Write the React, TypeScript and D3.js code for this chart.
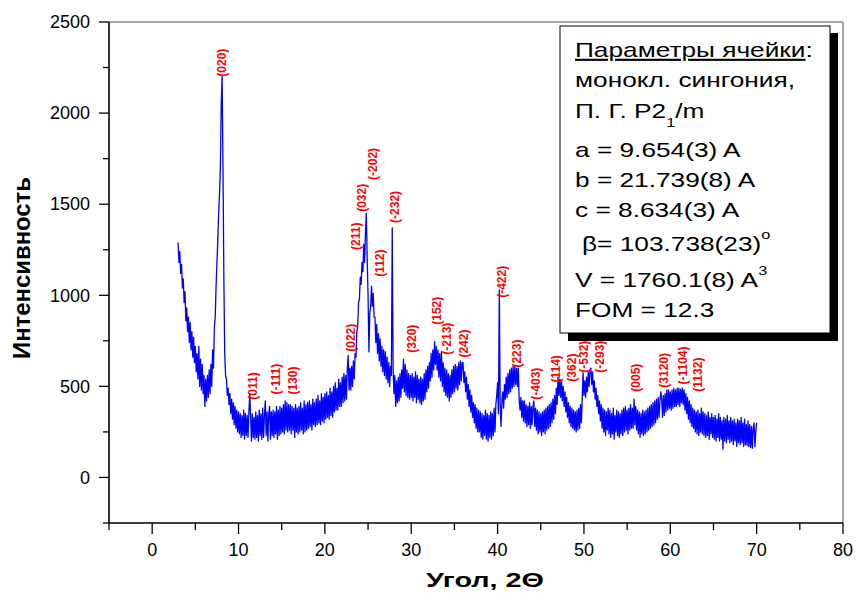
import React from 'react';
import * as d3 from 'd3';

const W = 856, H = 594;

// axes
const xDomain = [-5, 80];
const yDomain = [-250, 2500];
const xTicks = [0, 10, 20, 30, 40, 50, 60, 70, 80];
const xMinor = [-5, 5, 15, 25, 35, 45, 55, 65, 75];
const yTicks = [0, 500, 1000, 1500, 2000, 2500];
const yMinor = [-250, 250, 750, 1250, 1750, 2250];

// pattern: 3.0 .. 70.0 deg, step 0.1
const angleStart = 3.0;
const angleStep = 0.1;
const intensity = [
  1290, 1180, 1240, 1120, 1170, 1040, 1090, 960, 1020, 860,
  930, 800, 880, 740, 850, 700, 800, 660, 770, 630,
  720, 580, 680, 540, 720, 500, 650, 480, 620, 460,
  560, 390, 540, 420, 560, 440, 590, 460, 620, 500,
  700, 600, 820, 880, 1050, 1180, 1300, 1450, 1560, 1700,
  2050, 2200, 1700, 1100, 680, 560, 540, 450, 490, 400,
  460, 350, 430, 320, 410, 290, 390, 270, 370, 250,
  360, 240, 350, 220, 340, 230, 370, 210, 350, 230,
  340, 220, 360, 460, 330, 200, 350, 220, 330, 210,
  360, 220, 340, 200, 370, 230, 350, 210, 380, 220,
  340, 420, 230, 360, 200, 350, 390, 210, 360, 230,
  370, 220, 360, 240, 390, 210, 370, 230, 390, 240,
  380, 250, 400, 240, 420, 260, 410, 250, 400, 260,
  400, 240, 390, 260, 380, 220, 400, 250, 380, 240,
  390, 250, 410, 260, 380, 240, 420, 250, 400, 260,
  410, 270, 420, 280, 400, 260, 430, 290, 410, 280,
  430, 290, 450, 300, 420, 290, 460, 310, 440, 300,
  460, 320, 470, 330, 450, 320, 490, 340, 470, 330,
  500, 360, 520, 370, 490, 370, 540, 390, 520, 390,
  550, 410, 570, 420, 560, 430, 600, 670, 480, 600,
  480, 610, 500, 640, 540, 680, 660, 800, 830, 960,
  980, 1100, 1060, 1180, 1130, 1280, 1180, 1340, 1450, 1200,
  1000, 690, 900, 940, 1050, 940, 1010, 880, 880, 740,
  840, 680, 790, 640, 760, 610, 720, 580, 700, 560,
  690, 540, 660, 520, 630, 500, 610, 560, 1370, 600,
  460, 560, 390, 530, 410, 550, 420, 570, 440, 590,
  490, 650, 470, 620, 450, 590, 440, 570, 430, 560,
  440, 570, 420, 550, 440, 580, 410, 560, 430, 540,
  410, 550, 400, 540, 420, 570, 430, 590, 470, 610,
  490, 630, 530, 680, 550, 700, 590, 745, 620, 720,
  590, 700, 550, 680, 530, 690, 500, 630, 470, 600,
  450, 590, 440, 570, 420, 560, 440, 590, 460, 610,
  470, 620, 490, 610, 480, 630, 510, 640, 530, 630,
  630, 520, 580, 470, 550, 430, 510, 390, 480, 360,
  450, 330, 410, 300, 400, 270, 380, 250, 370, 250,
  360, 220, 350, 210, 340, 230, 370, 210, 350, 200,
  340, 220, 360, 210, 350, 230, 380, 250, 400, 450,
  520, 350, 1030, 400, 280, 420, 470, 380, 510, 430,
  550, 440, 570, 460, 590, 470, 600, 490, 610, 500,
  610, 510, 600, 500, 600, 430, 370, 440, 330, 420,
  310, 420, 300, 400, 280, 390, 290, 410, 270, 390,
  290, 390, 420, 280, 380, 260, 370, 240, 360, 250,
  350, 230, 360, 250, 370, 240, 380, 260, 390, 270,
  400, 280, 410, 300, 430, 320, 450, 350, 490, 400,
  550, 450, 540, 440, 530, 420, 500, 390, 470, 360,
  440, 330, 410, 300, 390, 280, 380, 270, 370, 260,
  360, 250, 370, 260, 380, 270, 400, 300, 430, 575,
  450, 530, 440, 550, 470, 580, 500, 590, 600, 510,
  580, 470, 530, 430, 490, 390, 450, 350, 420, 310,
  400, 270, 380, 250, 370, 230, 360, 260, 380, 240,
  370, 220, 350, 240, 380, 210, 340, 250, 370, 230,
  360, 220, 350, 240, 370, 230, 380, 250, 390, 260,
  370, 240, 380, 260, 400, 270, 380, 270, 430, 290,
  390, 260, 370, 240, 360, 220, 350, 240, 370, 230,
  360, 240, 370, 250, 380, 260, 390, 270, 400, 280,
  410, 290, 420, 300, 430, 320, 440, 330, 420, 470,
  430, 330, 450, 340, 460, 360, 480, 370, 480, 380,
  470, 370, 480, 380, 490, 390, 480, 390, 490, 400,
  490, 390, 485, 410, 490, 400, 480, 370, 460, 350,
  440, 320, 420, 300, 400, 280, 380, 270, 370, 250,
  360, 240, 370, 230, 350, 250, 380, 240, 360, 230,
  350, 220, 340, 230, 360, 210, 330, 240, 350, 220,
  330, 210, 340, 200, 320, 220, 350, 200, 330, 210,
  310, 155, 330, 200, 320, 190, 340, 210, 310, 190,
  330, 200, 310, 180, 320, 200, 300, 170, 320, 190,
  310, 180, 330, 190, 300, 170, 320, 180, 290, 175,
  310, 170, 290, 165, 280, 160, 270, 300, 170, 250,
  300,
];

// hkl labels: angle, intensity at the foot of the label
const peaks = [
  { hkl: '(020)', angle: 8.05, at: 2200 },
  { hkl: '(011)', angle: 11.71, at: 427 },
  { hkl: '(-111)', angle: 14.34, at: 455 },
  { hkl: '(130)', angle: 16.27, at: 455 },
  { hkl: '(022)', angle: 22.99, at: 690 },
  { hkl: '(211)', angle: 23.54, at: 1249 },
  { hkl: '(032)', angle: 24.26, at: 1458 },
  { hkl: '(-202)', angle: 25.54, at: 1633 },
  { hkl: '(112)', angle: 26.38, at: 1101 },
  { hkl: '(-232)', angle: 28.04, at: 1397 },
  { hkl: '(320)', angle: 30.12, at: 685 },
  { hkl: '(152)', angle: 32.95, at: 838 },
  { hkl: '(-213)', angle: 34.1, at: 674 },
  { hkl: '(242)', angle: 36.14, at: 658 },
  { hkl: '(-422)', angle: 40.47, at: 986 },
  { hkl: '(223)', angle: 42.28, at: 603 },
  { hkl: '(-403)', angle: 44.45, at: 427 },
  { hkl: '(114)', angle: 46.76, at: 521 },
  { hkl: '(362)', angle: 48.58, at: 526 },
  { hkl: '(-532)', angle: 50.04, at: 575 },
  { hkl: '(-293)', angle: 51.86, at: 575 },
  { hkl: '(005)', angle: 56.03, at: 471 },
  { hkl: '(3120)', angle: 59.3, at: 493 },
  { hkl: '(-1104)', angle: 61.5, at: 510 },
  { hkl: '(1132)', angle: 63.17, at: 471 },
];

const font = 'Liberation Sans, Arial, Helvetica, sans-serif';

export default function App() {
  const x = d3.scaleLinear().domain(xDomain).range([109, 843]);
  const y = d3.scaleLinear().domain(yDomain).range([523, 22]);

  const pts: [number, number][] = intensity.map((v, i) => [angleStart + i * angleStep, v]);
  const line = d3.line<[number, number]>().x(d => x(d[0])).y(d => y(d[1]));

  const x0 = x(xDomain[0]), x1 = x(xDomain[1]);
  const y0 = y(yDomain[0]), y1 = y(yDomain[1]);

  const cellRow = (yy: number, children: React.ReactNode, dx = 0) => (
    <text transform={`translate(${575 + dx},${yy}) scale(1.25,1)`} fontSize={21} fontFamily={font} fill="#000">
      {children}
    </text>
  );

  return (
    <svg width={W} height={H} style={{ position: 'absolute', left: 0, top: 0, background: '#fff' }}>
      {/* frame */}
      <line x1={x0} x2={x1} y1={y1} y2={y1} stroke="#8a8a8a" strokeWidth={1.5} />
      <line x1={x1} x2={x1} y1={y1} y2={y0} stroke="#8a8a8a" strokeWidth={1.5} />

      {/* data */}
      <path d={line(pts) || ''} fill="none" stroke="#0000ff" strokeWidth={1.3} strokeLinejoin="round" />

      {/* hkl labels */}
      {peaks.map(p => (
        <text key={p.hkl} transform={`translate(${x(p.angle)},${y(p.at)}) rotate(-90)`} dy="0.35em"
          fontSize={12} fontWeight="bold" fontFamily={font} fill="#ff0000">{p.hkl}</text>
      ))}

      {/* axes */}
      <line x1={x0} x2={x0} y1={y1} y2={y0} stroke="#000" strokeWidth={1.6} />
      <line x1={x0} x2={x1} y1={y0} y2={y0} stroke="#000" strokeWidth={1.6} />
      {yTicks.map(t => (
        <g key={'y' + t}>
          <line x1={x0 - 10} x2={x0} y1={y(t)} y2={y(t)} stroke="#000" strokeWidth={1.3} />
          <text x={90} y={y(t)} dy="0.35em" textAnchor="end" fontSize={18} fontFamily={font}>{t}</text>
        </g>
      ))}
      {yMinor.map(t => (
        <line key={'ym' + t} x1={x0 - 6} x2={x0} y1={y(t)} y2={y(t)} stroke="#000" strokeWidth={1.3} />
      ))}
      {xTicks.map(t => (
        <g key={'x' + t}>
          <line x1={x(t)} x2={x(t)} y1={y0} y2={y0 + 11} stroke="#000" strokeWidth={1.3} />
          <text x={x(t)} y={556} textAnchor="middle" fontSize={18} fontFamily={font}>{t}</text>
        </g>
      ))}
      {xMinor.map(t => (
        <line key={'xm' + t} x1={x(t)} x2={x(t)} y1={y0} y2={y0 + 7} stroke="#000" strokeWidth={1.3} />
      ))}

      {/* axis titles */}
      <text x={485} y={587} textAnchor="middle" fontSize={21} fontWeight="bold" fontFamily={font}
        textLength={118} lengthAdjust="spacingAndGlyphs">Угол, 2Θ</text>
      <text transform={`translate(30,268) rotate(-90)`} textAnchor="middle" fontSize={23} fontWeight="bold"
        fontFamily={font} textLength={182} lengthAdjust="spacingAndGlyphs">Интенсивность</text>

      {/* cell parameters box */}
      <rect x={568} y={33} width={270} height={308} fill="#000" />
      <rect x={560} y={26} width={270} height={307} fill="#fff" stroke="#000" strokeWidth={1} />
      {cellRow(57, <><tspan textDecoration="underline">Параметры ячейки</tspan>:</>)}
      {cellRow(87, 'монокл. сингония,')}
      {cellRow(118, <>П. Г. P2<tspan fontSize={13} dy={9}>1</tspan><tspan dy={-9}>/m</tspan></>)}
      {cellRow(157, 'a = 9.654(3) A')}
      {cellRow(187, 'b = 21.739(8) A')}
      {cellRow(217, 'c = 8.634(3) A')}
      {cellRow(251, <>β= 103.738(23)<tspan fontSize={13} dy={-12}>o</tspan></>, 7)}
      {cellRow(287, <>V = 1760.1(8) A<tspan fontSize={13} dy={-12}>3</tspan></>)}
      {cellRow(317, 'FOM = 12.3')}
    </svg>
  );
}
